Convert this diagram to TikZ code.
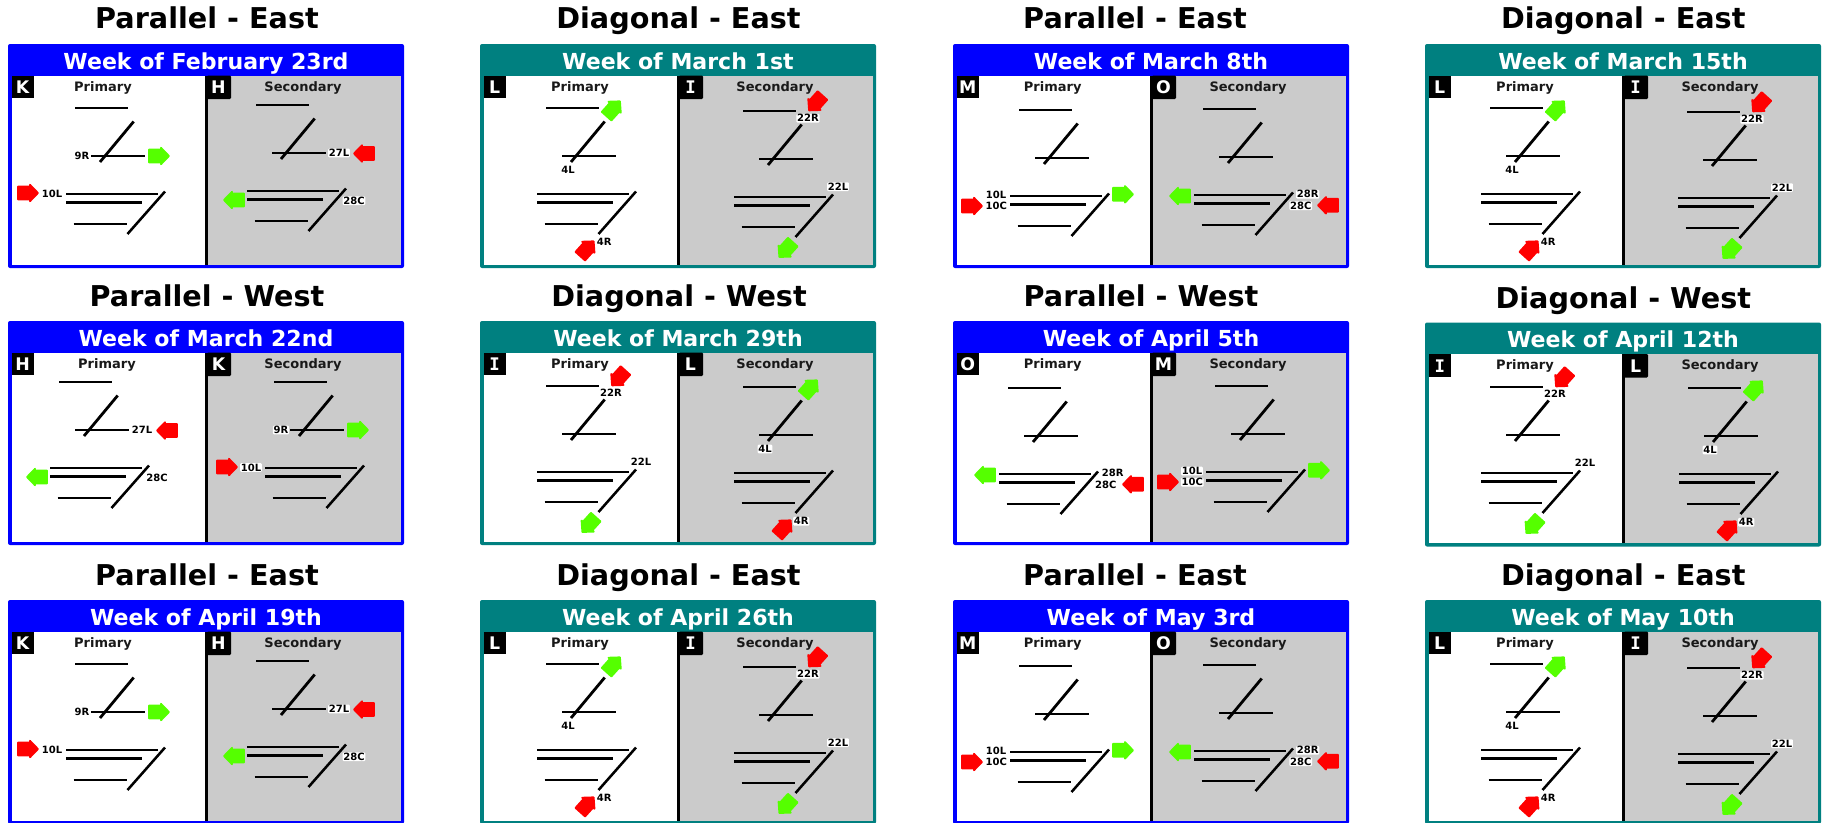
\documentclass[tikz,border=0pt]{standalone}
\usepackage{fontspec}
\setmainfont{DejaVu Sans}
\newfontfamily\monof{DejaVu Sans Mono}
\definecolor{blueband}{HTML}{0000FF}
\definecolor{tealband}{HTML}{008080}
\definecolor{panelgray}{HTML}{CBCBCB}
\definecolor{gocol}{HTML}{55FF00}
\definecolor{stopcol}{HTML}{FF0000}
\newcounter{nid}
\tikzset{
  px/.style={x=0.75pt,y=-0.75pt},
  titletxt/.style={anchor=base,inner sep=0,font=\fontsize{21.5pt}{24pt}\bfseries,text=black},
  headtxt/.style={anchor=base,inner sep=0,font=\fontsize{16.55pt}{18pt}\bfseries,text=white},
  subtxt/.style={anchor=base,inner sep=0,font=\fontsize{9.75pt}{11pt}\bfseries,text=black!90},
  tagtxt/.style={anchor=base,inner sep=0,font=\fontsize{13pt}{14pt}\bfseries,text=white},
  rwy/.style={font=\fontsize{7.5pt}{8pt}\bfseries,text=black,fill=white,inner xsep=0.6pt,inner ysep=0.5pt,rounded corners=0.8pt,text height=5.5pt,text depth=0pt},
  strip/.style={line width=2.1pt,black},
  thinstrip/.style={line width=1.9pt,black},
  flow/.style={line width=1.4pt,line join=round,draw=#1,fill=#1},
}
\newcommand{\ttl}[3]{\stepcounter{nid}\node[titletxt] (title\arabic{nid}) at (#1,#2) {#3};}
\newcommand{\panelbox}[7]{%
  \begin{scope}[shift={(#1,#2)}]
    \fill[#3,rounded corners=1.5pt] (0,0) rectangle (396,224);
    \stepcounter{nid}\node[headtxt] (head\arabic{nid}) at (198,25) {#4};
    \fill[white] (4,31.5) rectangle (196.5,220.5);
    \fill[panelgray] (199.5,31.5) rectangle (392.5,220.5);
    \fill[black] (196.5,31.5) rectangle (199.5,220.5);
    \fill[black] (4,31.5) rectangle (26,54);
    \fill[black,rounded corners=0.8pt] (199,31.5) rectangle (223,55);
    \stepcounter{nid}\node[tagtxt] (tagA\arabic{nid}) at (14.7,49.5) {#5};
    \stepcounter{nid}\node[tagtxt] (tagB\arabic{nid}) at (210.5,49.5) {#6};
    \stepcounter{nid}\node[subtxt] (prim\arabic{nid}) at (#7,47) {Primary};
    \stepcounter{nid}\node[subtxt] (sec\arabic{nid}) at (295,47) {Secondary};
  \end{scope}}
\newcommand{\airport}[3]{%
  \begin{scope}[shift={(#1,#2)}]
    \draw[strip] (0,0) -- (53,0);
    \draw[strip] (25,54) -- (58.7,13.5);
    \draw[strip] (16,48) -- (70,48);
    \draw[strip] (-9,86) -- (82.5,86);
    \draw[strip] (-9,94.5) -- (67,94.5);
    \draw[thinstrip] (-1.5,116) -- (51.5,116);
    \draw[thinstrip] (52.5,126) -- (90,83.5);
    #3
  \end{scope}}
\newcommand{\xarr}[4]{%
  \begin{scope}[shift={(#1,#2)},rotate=#3]
    \filldraw[flow=#4] (-10,-6.4) -- (2,-6.4) -- (2,-8.2) -- (9.9,0) -- (2,8.2) -- (2,6.4) -- (-10,6.4) -- cycle;
  \end{scope}}
\newcommand{\xlab}[3]{\stepcounter{nid}\node[rwy] (rwy\arabic{nid}) at (#1,#2) {#3};}
% runway configurations
\newcommand{\cfgK}{\xarr{84}{48}{0}{gocol}\xarr{-47}{85}{0}{stopcol}\xlab{7}{48}{9R}\xlab{-23}{85.5}{10L}}
\newcommand{\cfgH}{\xarr{108}{48.5}{180}{stopcol}\xarr{-22}{95}{180}{gocol}\xlab{83}{48}{27L}\xlab{98}{95.7}{28C}}
\newcommand{\cfgM}{\xarr{-47}{96}{0}{stopcol}\xarr{104}{84.3}{0}{gocol}\xlab{-23}{85}{10L}\xlab{-22.7}{96.3}{10C}}
\newcommand{\cfgO}{\xarr{-23}{87}{180}{gocol}\xarr{125}{96.3}{180}{stopcol}\xlab{104.7}{85.3}{28R}\xlab{97.7}{96.7}{28C}}
\newcommand{\cfgL}{\xarr{67.3}{0.7}{48}{gocol}\xarr{41}{140.7}{48}{stopcol}\xlab{22}{62}{4L}\xlab{58.3}{134.3}{4R}}
\newcommand{\cfgI}{\xarr{72.7}{-8}{228}{stopcol}\xarr{43}{138.6}{228}{gocol}\xlab{65}{7.3}{22R}\xlab{95}{75.7}{22L}}
\newcommand{\tagI}{{\monof\bfseries I}}
\begin{document}
\begin{tikzpicture}[px]
\clip (0,0) rectangle (1823,822);
\fill[white] (0,0) rectangle (1823,822);
% row 1
\ttl{207}{28.8}{Parallel - East}
\ttl{678.5}{28.8}{Diagonal - East}
\ttl{1135}{28.8}{Parallel - East}
\ttl{1623.3}{28.8}{Diagonal - East}
\panelbox{8}{44}{blueband}{Week of February 23rd}{K}{H}{95}
\begin{scope}[shift={(8,44)}]\airport{67}{64}{\cfgK}\airport{248}{61}{\cfgH}\end{scope}
\panelbox{480}{44}{tealband}{Week of March 1st}{L}{\tagI}{100}
\begin{scope}[shift={(480,44)}]\airport{66}{64}{\cfgL}\airport{263}{67}{\cfgI}\end{scope}
\panelbox{953}{44}{blueband}{Week of March 8th}{M}{O}{99.7}
\begin{scope}[shift={(953,44)}]\airport{66}{66}{\cfgM}\airport{250}{65}{\cfgO}\end{scope}
\panelbox{1425}{44}{tealband}{Week of March 15th}{L}{\tagI}{100}
\begin{scope}[shift={(1425,44)}]\airport{65}{64}{\cfgL}\airport{262}{68}{\cfgI}\end{scope}
% row 2
\ttl{207}{306.3}{Parallel - West}
\ttl{679}{306.3}{Diagonal - West}
\ttl{1141}{306.3}{Parallel - West}
\ttl{1623.3}{308.5}{Diagonal - West}
\panelbox{8}{321}{blueband}{Week of March 22nd}{H}{K}{99}
\begin{scope}[shift={(8,321)}]\airport{51}{61}{\cfgH}\airport{266}{61}{\cfgK}\end{scope}
\panelbox{480}{321}{tealband}{Week of March 29th}{\tagI}{L}{100}
\begin{scope}[shift={(480,321)}]\airport{66}{65}{\cfgI}\airport{263}{66}{\cfgL}\end{scope}
\panelbox{953}{321}{blueband}{Week of April 5th}{O}{M}{99.7}
\begin{scope}[shift={(953,321)}]\airport{55}{67}{\cfgO}\airport{262}{65}{\cfgM}\end{scope}
\panelbox{1425}{322.5}{tealband}{Week of April 12th}{\tagI}{L}{100}
\begin{scope}[shift={(1425,322.5)}]\airport{65}{64.5}{\cfgI}\airport{263}{65.5}{\cfgL}\end{scope}
% row 3
\ttl{207}{585.3}{Parallel - East}
\ttl{678.5}{585.3}{Diagonal - East}
\ttl{1135}{585.3}{Parallel - East}
\ttl{1623.3}{585.3}{Diagonal - East}
\panelbox{8}{600}{blueband}{Week of April 19th}{K}{H}{95}
\begin{scope}[shift={(8,600)}]\airport{67}{64}{\cfgK}\airport{248}{61}{\cfgH}\end{scope}
\panelbox{480}{600}{tealband}{Week of April 26th}{L}{\tagI}{100}
\begin{scope}[shift={(480,600)}]\airport{66}{64}{\cfgL}\airport{263}{67}{\cfgI}\end{scope}
\panelbox{953}{600}{blueband}{Week of May 3rd}{M}{O}{99.7}
\begin{scope}[shift={(953,600)}]\airport{66}{66}{\cfgM}\airport{250}{65}{\cfgO}\end{scope}
\panelbox{1425}{600}{tealband}{Week of May 10th}{L}{\tagI}{100}
\begin{scope}[shift={(1425,600)}]\airport{65}{64}{\cfgL}\airport{262}{68}{\cfgI}\end{scope}
\end{tikzpicture}
\end{document}
